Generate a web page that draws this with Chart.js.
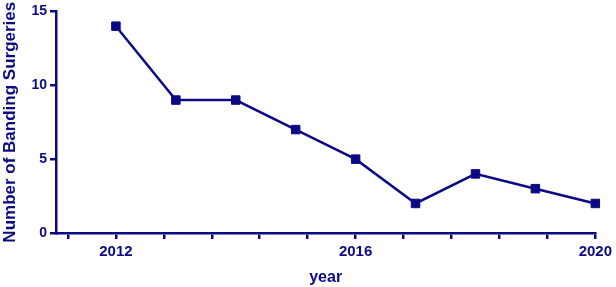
<!DOCTYPE html>
<html>
<head>
<meta charset="utf-8">
<script src="https://cdn.jsdelivr.net/npm/chart.js@4/dist/chart.umd.min.js"></script>
<style>
  html, body { margin: 0; padding: 0; background: #fff; }
  #wrap { width: 616px; height: 287px; }
</style>
</head>
<body>
<div id="wrap"><canvas id="chart"></canvas></div>
<script>
// Data
const years = [2012, 2013, 2014, 2015, 2016, 2017, 2018, 2019, 2020];
const surgeries = [14, 9, 9, 7, 5, 2, 4, 3, 2];
const xTickValues = [2011.2, 2012, 2012.8, 2013.6, 2014.4, 2015.2, 2016, 2016.8, 2017.6, 2018.4, 2019.2, 2020];
const xTickLabels = [2012, 2016, 2020];
const yTickValues = [0, 5, 10, 15];

const navy = '#0a0a84';

const ctx = document.getElementById('chart').getContext('2d');
new Chart(ctx, {
    type: 'line',
    data: {
        datasets: [{
            label: 'Number of Banding Surgeries',
            data: years.map((y, i) => ({ x: y, y: surgeries[i] })),
            borderColor: navy,
            backgroundColor: navy,
            borderWidth: 2.5,
            pointStyle: 'rect',
            pointRadius: 6,
            pointHoverRadius: 6,
            pointBorderWidth: 1,
            tension: 0,
            fill: false,
            clip: false
        }]
    },
    options: {
        responsive: true,
        maintainAspectRatio: false,
        animation: false,
        layout: { padding: { left: 0, right: 17, top: 7, bottom: 0 } },
        plugins: {
            legend: { display: false },
            tooltip: { enabled: false }
        },
        scales: {
            x: {
                type: 'linear',
                min: 2011,
                max: 2020,
                afterBuildTicks: scale => { scale.ticks = xTickValues.map(v => ({ value: v })); },
                afterFit: scale => { scale.height = 54; },
                ticks: {
                    autoSkip: false,
                    maxRotation: 0,
                    color: navy,
                    font: { family: 'Liberation Sans, Arial', size: 15, weight: 'bold' },
                    padding: 4,
                    callback: v => xTickLabels.includes(Math.round(v * 10) / 10) ? String(v) : ''
                },
                grid: { drawOnChartArea: false, drawTicks: true, tickLength: 6, color: navy, lineWidth: 2.5 },
                border: { display: true, color: navy, width: 2.5 },
                title: {
                    display: true,
                    text: 'year',
                    color: navy,
                    font: { family: 'Liberation Sans, Arial', size: 16, weight: 'bold' },
                    padding: { top: 0, bottom: 0 }
                }
            },
            y: {
                min: 0,
                max: 15,
                afterBuildTicks: scale => { scale.ticks = yTickValues.map(v => ({ value: v })); },
                afterFit: scale => { scale.width = 56; },
                ticks: {
                    color: navy,
                    font: { family: 'Liberation Sans, Arial', size: 14, weight: 'bold' },
                    padding: 3
                },
                grid: { drawOnChartArea: false, drawTicks: true, tickLength: 6, color: navy, lineWidth: 2.5 },
                border: { display: true, color: navy, width: 2.5 },
                title: {
                    display: true,
                    text: 'Number of Banding Surgeries',
                    color: navy,
                    font: { family: 'Liberation Sans, Arial', size: 17, weight: 'bold' },
                    padding: { top: 0, bottom: 0 }
                }
            }
        }
    }
});
</script>
</body>
</html>
